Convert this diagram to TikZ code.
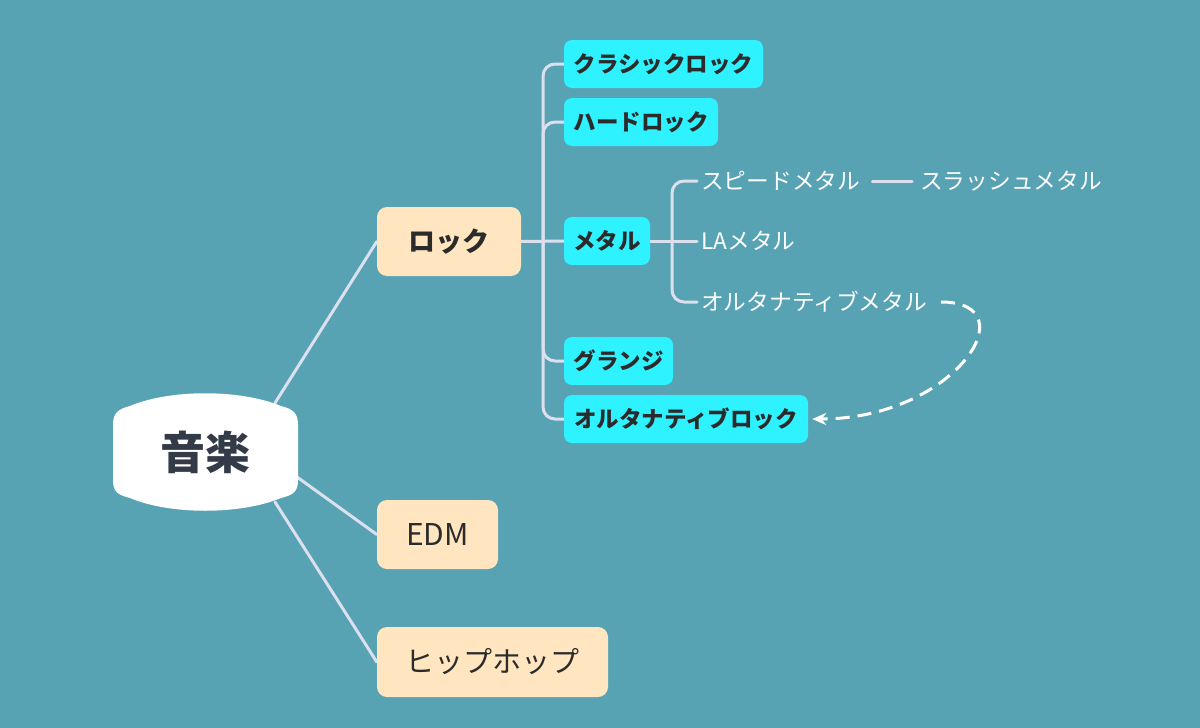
\documentclass[tikz,border=0pt]{standalone}
\usepackage{fontspec}
\setmainfont{Noto Sans CJK JP}
\usetikzlibrary{arrows.meta}
\pgfdeclarelayer{bgfill}
\pgfdeclarelayer{background}
\pgfsetlayers{bgfill,background,main}
\definecolor{bg}{HTML}{57A3B4}
\definecolor{cyanbox}{HTML}{2EF2FF}
\definecolor{beige}{HTML}{FFE6C1}
\definecolor{conn}{HTML}{DCE0EE}
\definecolor{darktext}{HTML}{2B2B2B}
\definecolor{slate}{HTML}{323B47}
\begin{document}
\begin{tikzpicture}[x=1pt,y=-1pt,
  connline/.style={draw=conn,line width=3pt,line cap=round},
  mainbox/.style={fill=beige,rounded corners=10pt,inner sep=0pt,text=darktext,
    minimum height=69pt,font={\fontsize{29}{34}\selectfont}},
  subbox/.style={fill=cyanbox,rounded corners=8pt,inner sep=0pt,text=darktext,
    minimum height=48pt,font={\fontsize{22.5}{26}\selectfont\bfseries}},
  leaf/.style={text=white,inner sep=4pt,font={\fontsize{22.7}{26}\selectfont}}]
\useasboundingbox (0,0) rectangle (1200,728);
\begin{pgfonlayer}{bgfill}
\fill[bg] (0,0) rectangle (1200,728);
\end{pgfonlayer}

% central shape
\fill[white] (113,425) .. controls (113,413) and (118,409) .. (130,406)
  .. controls (170,389) and (240,389) .. (281,406)
  .. controls (293,409) and (298,413) .. (298,425)
  -- (298,480)
  .. controls (298,492) and (293,495) .. (281,498)
  .. controls (240,515) and (170,515) .. (130,498)
  .. controls (118,495) and (113,492) .. (113,480) -- cycle;
\node[text=slate,font={\fontsize{45}{50}\selectfont\bfseries}] (music) at (205,452) {音楽};
\coordinate (m1) at (275,403);
\coordinate (m2) at (297,477);
\coordinate (m3) at (275,502);

% main branches
\node[mainbox,minimum width=144pt,font={\fontsize{27}{32}\selectfont\bfseries}] (rock) at (449,241.5) {ロック};
\node[mainbox,minimum width=121pt,font={\fontsize{30}{34}\selectfont}] (edm) at (437.5,534.5) {EDM};
\node[mainbox,minimum width=231pt,minimum height=70pt] (hiphop) at (492.5,662) {ヒップホップ};

% rock children
\node[subbox,minimum width=199pt] (classic) at (663.5,64) {クラシックロック};
\node[subbox,minimum width=154pt] (hard) at (641,122) {ハードロック};
\node[subbox,minimum width=86pt] (metal) at (607,241) {メタル};
\node[subbox,minimum width=109pt] (grunge) at (618.5,361) {グランジ};
\node[subbox,minimum width=244pt] (altrock) at (686,419) {オルタナティブロック};

% metal children
\node[leaf,anchor=west] (speed) at (697,181) {スピードメタル};
\node[leaf,anchor=west] (thrash) at (916,181) {スラッシュメタル};
\node[leaf,anchor=west] (la) at (697,241) {LAメタル};
\node[leaf,anchor=west] (altmetal) at (697,302) {オルタナティブメタル};

\coordinate (spine) at (543,241);
\coordinate (mspine) at (672,241);

\begin{pgfonlayer}{background}
\draw[connline] (m1) -- (rock.west);
\draw[connline] (m2) -- (edm.west);
\draw[connline] (m3) -- (hiphop.west);
\draw[connline,rounded corners=12pt] (classic.west) -| (spine) |- (altrock.west);
\draw[connline,rounded corners=12pt] (hard.west) -| (spine);
\draw[connline,rounded corners=12pt] (grunge.west) -| (spine);
\draw[connline] (rock.east) -- (metal.west);
\draw[connline,rounded corners=12pt] (speed.west) -| (mspine) |- (altmetal.west);
\draw[connline] (metal.east) -- (la.west);
\draw[connline] ([xshift=8pt]speed.east) -- ([xshift=-4pt]thrash.west);
\end{pgfonlayer}
\draw[white,line width=3pt,dash pattern=on 14pt off 8pt,-{Stealth[length=14pt,width=12pt]}]
  ([xshift=10pt]altmetal.east) .. controls (1030,302) and (955,419) .. ([xshift=4pt]altrock.east);
\end{tikzpicture}
\end{document}
